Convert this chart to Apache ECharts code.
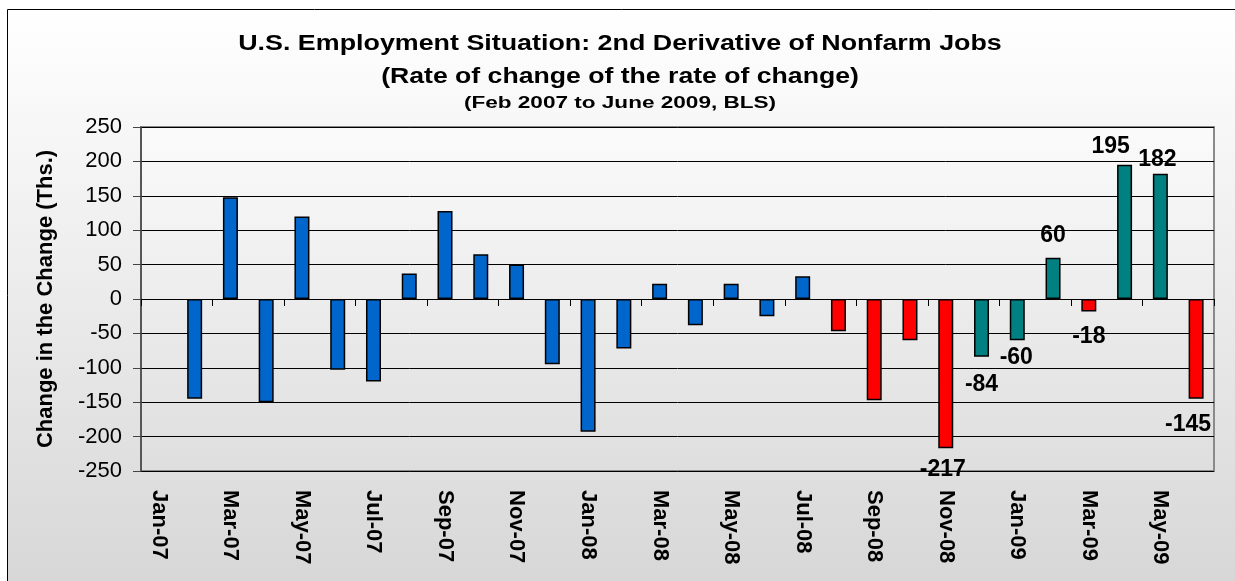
<!DOCTYPE html>
<html>
<head>
<meta charset="utf-8">
<script src="https://cdn.jsdelivr.net/npm/echarts@6/dist/echarts.min.js"></script>
<style>
  html, body { margin: 0; padding: 0; background: #fff; }
  #chart { width: 1235px; height: 581px; }
</style>
</head>
<body>
<div id="chart"></div>
<script>
// months Jan-07 .. Jun-09 (Jan-07 has no value)
const months = [
  'Jan-07', 'Feb-07', 'Mar-07', 'Apr-07', 'May-07', 'Jun-07', 'Jul-07', 'Aug-07', 'Sep-07', 'Oct-07', 'Nov-07', 'Dec-07',
  'Jan-08', 'Feb-08', 'Mar-08', 'Apr-08', 'May-08', 'Jun-08', 'Jul-08', 'Aug-08', 'Sep-08', 'Oct-08', 'Nov-08', 'Dec-08',
  'Jan-09', 'Feb-09', 'Mar-09', 'Apr-09', 'May-09', 'Jun-09'
];
const change2 = [
  null, -145, 148, -150, 120, -103, -120, 37, 128, 65, 50, -95,
  -193, -72, 22, -38, 22, -25, 33, -47, -147, -60, -217, -84,
  -60, 60, -18, 195, 182, -145
];
// colour group of each bar
const barGroup = [
  'b', 'b', 'b', 'b', 'b', 'b', 'b', 'b', 'b', 'b', 'b', 'b',
  'b', 'b', 'b', 'b', 'b', 'b', 'b', 'r', 'r', 'r', 'r', 't',
  't', 't', 'r', 't', 't', 'r'
];
const labelled = ['Nov-08', 'Dec-08', 'Jan-09', 'Feb-09', 'Mar-09', 'Apr-09', 'May-09', 'Jun-09'];
const yTicks = [-250, -200, -150, -100, -50, 0, 50, 100, 150, 200, 250];
const titleLines = [
  'U.S. Employment Situation: 2nd Derivative of Nonfarm Jobs',
  '(Rate of change of the rate of change)',
  '(Feb 2007 to June 2009, BLS)'
];

const groupColor = { b: '#0066CC', r: '#FF0000', t: '#008080' };
// small nudges so the data labels sit where the original put them
const labelNudge = {
  'Nov-08': [-3, 5], 'Dec-08': [0, 11], 'Jan-09': [-1, 0.5], 'Feb-09': [0, -5.5],
  'Mar-09': [0, 9], 'Apr-09': [-14, -1.5], 'May-09': [-3, 2.5], 'Jun-09': [-8, 9.5]
};
const FONT = 'Liberation Sans, Arial, sans-serif';

const chart = echarts.init(document.getElementById('chart'));

const data = change2.map((v, i) => {
  const item = {
    value: v,
    itemStyle: { color: groupColor[barGroup[i]] }
  };
  if (labelled.includes(months[i])) {
    item.label = {
      show: true,
      position: v < 0 ? 'bottom' : 'top',
      offset: labelNudge[months[i]]
    };
  }
  return item;
});

// the original's titles are drawn a little wide, so stretch them sideways
function titleText(text, y, size, stretch) {
  return {
    type: 'text',
    x: 620, y: y,
    scaleX: stretch,
    style: {
      text: text,
      fontFamily: FONT,
      fontSize: size,
      fontWeight: 'bold',
      fill: '#000',
      align: 'center',
      verticalAlign: 'middle'
    }
  };
}

const option = {
  animation: false,
  backgroundColor: '#ffffff',
  textStyle: { fontFamily: FONT },
  graphic: [
    {
      type: 'rect',
      z: -10,
      shape: { x: 7.5, y: 9.5, width: 1240, height: 590 },
      style: {
        fill: new echarts.graphic.LinearGradient(0, 0, 0, 1, [
          { offset: 0, color: '#ffffff' },
          { offset: 1, color: '#d6d6d6' }
        ]),
        stroke: '#000',
        lineWidth: 1
      }
    },
    titleText(titleLines[0], 44, 22, 1.22),
    titleText(titleLines[1], 77, 22, 1.21),
    titleText(titleLines[2], 104, 16, 1.41)
  ],
  grid: {
    left: 141, right: 21, top: 127, bottom: 110,
    show: true,
    backgroundColor: new echarts.graphic.LinearGradient(0, 0, 0, 1, [
      { offset: 0, color: '#fbfbfb' },
      { offset: 1, color: '#dedede' }
    ]),
    borderColor: '#8a8a8a',
    borderWidth: 2
  },
  xAxis: [
    {
      type: 'category',
      data: months,
      position: 'bottom',
      axisLine: { show: false, onZero: false },
      axisTick: { show: false },
      axisLabel: {
        interval: 1,
        rotate: -90,
        margin: 19,
        fontSize: 22,
        fontWeight: 'bold',
        color: '#000'
      }
    },
    {
      type: 'category',
      data: months,
      position: 'top',
      axisLine: { show: true, onZero: true, lineStyle: { color: '#000', width: 1 } },
      axisTick: { show: true, inside: true, interval: 1, length: 7, lineStyle: { color: '#000' } },
      axisLabel: { show: false }
    }
  ],
  yAxis: {
    type: 'value',
    min: -250, max: 250, interval: 50,
    axisLine: { show: true, lineStyle: { color: '#444', width: 1.5 } },
    axisTick: { show: true, length: 8, lineStyle: { color: '#444' } },
    axisLabel: {
      fontSize: 22, color: '#000', margin: 19,
      customValues: yTicks
    },
    splitLine: { show: true, lineStyle: { color: '#000', width: 1 } },
    name: 'Change in the Change (Ths.)',
    nameLocation: 'middle',
    nameGap: 84,
    nameTextStyle: { fontSize: 22, fontWeight: 'bold', color: '#000' }
  },
  series: [{
    type: 'bar',
    xAxisIndex: 0,
    data: data,
    barWidth: 15,
    itemStyle: { borderColor: '#000', borderWidth: 1.5 },
    label: {
      fontSize: 23,
      fontWeight: 'bold',
      color: '#000',
      distance: 5
    }
  }]
};

chart.setOption(option);
</script>
</body>
</html>
